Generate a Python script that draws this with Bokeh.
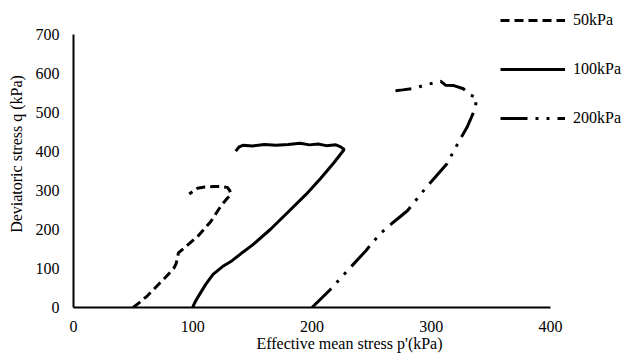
from bokeh.plotting import figure
from bokeh.models import Range1d, Legend, LegendItem
from bokeh.embed import file_html
from bokeh.resources import INLINE

# 50 kPa
p50 = [50, 55, 62, 70, 78, 84, 86, 87, 88, 95, 105, 115, 124, 129, 132, 131, 129, 124, 117, 110, 104, 97]
q50 = [0, 12, 30, 55, 80, 100, 112, 125, 140, 158, 185, 220, 262, 280, 290, 300, 308, 310, 310, 309, 306, 291]

# 100 kPa
p100 = [100, 101, 103, 106, 111, 117, 125, 133, 140, 150, 165, 180, 195, 207, 218, 227, 224, 220, 212, 205, 198, 190, 180, 170, 160, 150, 142, 139, 136]
q100 = [0, 8, 20, 35, 60, 85, 105, 120, 137, 160, 200, 245, 290, 330, 370, 405, 412, 417, 415, 419, 417, 421, 418, 416, 418, 414, 416, 412, 401]

# 200 kPa
p200 = [200, 215, 232, 245, 257, 268, 280, 295, 313, 324, 330, 334, 337, 338, 335, 332, 327, 319, 312, 308, 298, 290, 284, 276, 270]
q200 = [0, 45, 102, 145, 189, 218, 248, 305, 368, 430, 462, 490, 512, 539, 542, 546, 561, 569, 570, 580, 573, 566, 561, 558, 556]

labels = ["50kPa", "100kPa", "200kPa"]
x_ticks = [0, 100, 200, 300, 400]
y_ticks = [0, 100, 200, 300, 400, 500, 600, 700]

FONT = "Liberation Serif"

W, H = 625, 355
BL, BB, BT, BR = 73, 48, 0, 0
fw, fh = W - BL - BR, H - BB - BT
# 400 kPa spans 477 px, 700 kPa spans 273 px
x_end = x_ticks[-1] * fw / 477.0
y_end = y_ticks[-1] * fh / 273.0

p = figure(width=W, height=H, output_backend="svg", toolbar_location=None,
           x_range=Range1d(0, x_end), y_range=Range1d(0, y_end),
           min_border_left=BL, min_border_right=BR, min_border_top=BT, min_border_bottom=BB)

r1 = p.line(p50, q50, line_color="black", line_width=3, line_dash="9 5")
r2 = p.line(p100, q100, line_color="black", line_width=3)
r3 = p.line(p200, q200, line_color="black", line_width=3, line_dash="27 8 3 8 3 8")

p.xgrid.visible = False
p.ygrid.visible = False
p.outline_line_color = None
p.background_fill_color = "white"
p.border_fill_color = "white"

for ax in (p.xaxis, p.yaxis):
    ax.major_tick_line_color = None
    ax.minor_tick_line_color = None
    ax.axis_line_color = "black"
    ax.axis_line_width = 2
    ax.major_label_text_font = FONT
    ax.major_label_text_font_size = "16px"
    ax.major_label_text_color = "black"
    ax.axis_label_text_font = FONT
    ax.axis_label_text_font_size = "16px"
    ax.axis_label_text_font_style = "normal"
    ax.axis_label_text_color = "black"

p.xaxis.ticker = x_ticks
p.yaxis.ticker = y_ticks
p.xaxis.bounds = (x_ticks[0], x_ticks[-1])
p.yaxis.bounds = (y_ticks[0], y_ticks[-1])
p.xaxis.axis_label = "Effective mean stress p'(kPa)"
p.yaxis.axis_label = "Deviatoric stress q (kPa)"
p.xaxis.major_label_standoff = 7
p.yaxis.major_label_standoff = 8
p.xaxis.axis_label_standoff = 0
p.yaxis.axis_label_standoff = 8

legend = Legend(items=[LegendItem(label=labels[0], renderers=[r1]),
                       LegendItem(label=labels[1], renderers=[r2]),
                       LegendItem(label=labels[2], renderers=[r3])],
                location=(427, 179), orientation="vertical",
                glyph_width=65, glyph_height=20, spacing=29, label_standoff=8,
                padding=0, margin=0, border_line_color=None, background_fill_alpha=0,
                label_text_font=FONT, label_text_font_size="16px", label_text_color="black")
p.add_layout(legend, "center")

open("out.html", "w").write(file_html(p, INLINE))
